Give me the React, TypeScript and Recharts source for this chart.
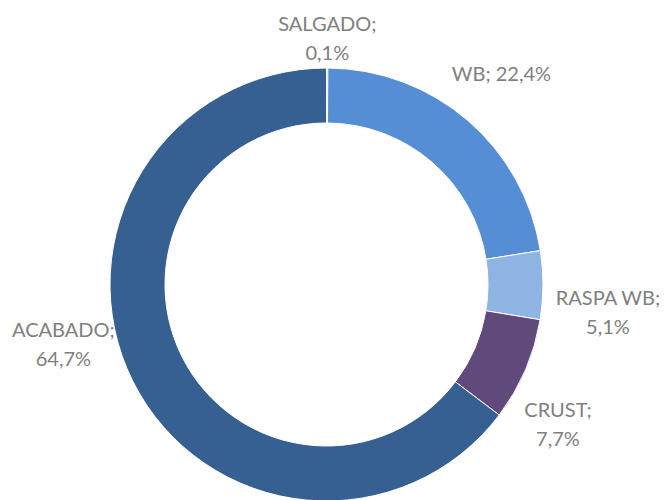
import { Cell, Pie, PieChart } from "recharts";

const categories = ["SALGADO", "WB", "RASPA WB", "CRUST", "ACABADO"];
const shares = [0.1, 22.4, 5.1, 7.7, 64.7];
const sliceColors = ["#4a7ebb", "#558ed5", "#8eb4e3", "#604a7b", "#376092"];

const rows = categories.map((name, i) => ({ name, value: shares[i] }));

// Excel "best fit" puts the labels a little off the plain radial spot
const labelNudge: Record<string, [number, number]> = {
  SALGADO: [0, 24],
  WB: [-2, -6],
  "RASPA WB": [10, 26],
  CRUST: [-18, 32],
  ACABADO: [-20, -62],
};

const RAD = Math.PI / 180;

function fmt(v: number) {
  return v.toFixed(1).replace(".", ",") + "%";
}

function renderLabel(props: any) {
  const { cx, cy, midAngle, outerRadius, name, value } = props;
  const r = outerRadius + 55;
  const [dx, dy] = labelNudge[name] ?? [0, 0];
  const x = cx + r * Math.cos(-midAngle * RAD) + dx;
  const y = cy + r * Math.sin(-midAngle * RAD) + dy;
  const lines = name.length <= 2 ? [`${name}; ${fmt(value)}`] : [`${name};`, fmt(value)];
  const lh = 29;
  const top = y - ((lines.length - 1) * lh) / 2;
  return (
    <text
      x={x}
      y={top}
      textAnchor="middle"
      dominantBaseline="central"
      fill="#7f7f7f"
      fontSize={20}
      fontFamily="Lato, 'Noto Sans', sans-serif"
    >
      {lines.map((t, i) => (
        <tspan key={i} x={x} y={top + i * lh}>
          {t}
        </tspan>
      ))}
    </text>
  );
}

export default function App() {
  return (
    <div style={{ position: "fixed", left: 0, top: 0, width: 668, height: 500, background: "#fff" }}>
      <PieChart width={668} height={500} margin={{ top: 0, right: 0, bottom: 0, left: 0 }}>
        <Pie
          data={rows}
          dataKey="value"
          nameKey="name"
          cx={326.5}
          cy={284.5}
          innerRadius={161.5}
          outerRadius={216.5}
          startAngle={90}
          endAngle={-270}
          stroke="#ffffff"
          strokeWidth={1}
          label={renderLabel}
          labelLine={false}
          isAnimationActive={false}
        >
          {rows.map((r, i) => (
            <Cell key={r.name} fill={sliceColors[i]} />
          ))}
        </Pie>
      </PieChart>
    </div>
  );
}
